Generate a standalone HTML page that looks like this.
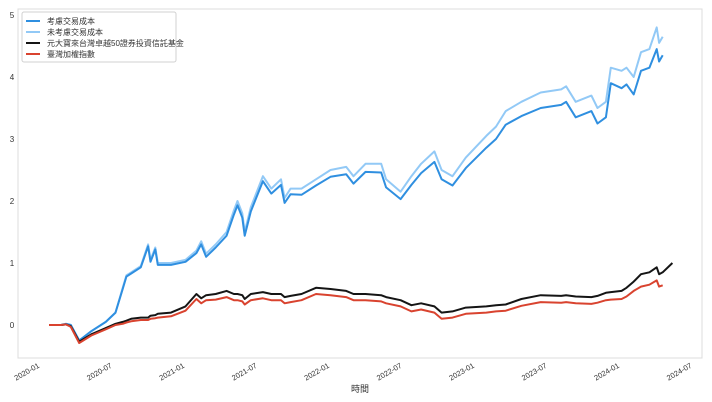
<!DOCTYPE html>
<html><head><meta charset="utf-8"><style>
html,body{margin:0;padding:0;background:#fff;}
svg{display:block;font-family:"Liberation Sans","Noto Sans CJK TC",sans-serif;}
</style></head><body>
<svg id="chart" width="712" height="402" viewBox="0 0 712 402">
<rect x="18" y="9" width="684" height="349" fill="#fff" stroke="#dcdcdc" stroke-width="1"/>
<g id="yticks"></g>
<g id="xticks"></g>
<g id="series"></g>
<text x="360" y="392" font-size="9" fill="#333" text-anchor="middle">時間</text>
<g>
<rect x="22" y="12" width="154" height="50" fill="#fff" stroke="#d0d0d0" rx="2"/>
<g><line x1="26" y1="21" x2="40" y2="21" stroke="#2f8fe0" stroke-width="2"/><text x="47" y="24" font-size="8" fill="#333">考慮交易成本</text></g>
<g><line x1="26" y1="32" x2="40" y2="32" stroke="#92c9f6" stroke-width="2"/><text x="47" y="35" font-size="8" fill="#333">未考慮交易成本</text></g>
<g><line x1="26" y1="43" x2="40" y2="43" stroke="#151515" stroke-width="2"/><text x="47" y="46" font-size="8" fill="#333">元大寶來台灣卓越50證券投資信託基金</text></g>
<g><line x1="26" y1="54" x2="40" y2="54" stroke="#d9432f" stroke-width="2"/><text x="47" y="57" font-size="8" fill="#333">臺灣加權指數</text></g>
</g>
</svg>
<script>
// months since 2020-01
const months=[0.5,1.5,1.9,2.3,3.0,4.0,5.2,6.0,6.6,6.9,7.3,8.1,8.7,8.9,9.3,9.5,10.6,11.8,12.7,13.1,13.5,14.3,15.2,15.8,16.1,16.5,16.7,17.2,18.2,18.9,19.7,20.0,20.5,21.4,22.6,23.8,25.1,25.7,26.7,28.0,28.4,29.6,30.5,31.3,32.4,33.0,33.9,35.0,36.7,37.5,38.3,39.6,41.2,42.9,43.3,44.1,45.4,45.9,46.6,47.0,47.9,48.3,48.9,49.5,50.2,50.8,51.0,51.3,52.1];
const withCost=[0,0,0.02,0,-0.25,-0.1,0.05,0.2,0.58,0.78,0.83,0.93,1.27,1.02,1.22,0.97,0.97,1.02,1.16,1.3,1.1,1.25,1.44,1.78,1.93,1.73,1.44,1.83,2.32,2.12,2.26,1.97,2.11,2.1,2.25,2.39,2.43,2.28,2.47,2.46,2.22,2.03,2.26,2.45,2.63,2.35,2.25,2.53,2.86,3.0,3.23,3.37,3.5,3.55,3.6,3.35,3.45,3.25,3.35,3.9,3.82,3.88,3.72,4.1,4.15,4.45,4.25,4.35,null];
const noCost=[0,0,0.02,0,-0.25,-0.1,0.05,0.2,0.6,0.8,0.85,0.95,1.3,1.05,1.25,1.0,1.0,1.05,1.2,1.35,1.15,1.3,1.5,1.85,2.0,1.8,1.5,1.9,2.4,2.2,2.35,2.05,2.2,2.2,2.35,2.5,2.55,2.4,2.6,2.6,2.35,2.15,2.4,2.6,2.8,2.5,2.4,2.7,3.05,3.2,3.45,3.6,3.75,3.8,3.85,3.6,3.7,3.5,3.6,4.15,4.1,4.15,4.0,4.4,4.45,4.8,4.55,4.65,null];
const etf0050=[0,0,0.01,-0.02,-0.27,-0.15,-0.05,0.02,0.05,0.07,0.1,0.12,0.12,0.15,0.16,0.18,0.2,0.3,0.5,0.43,0.48,0.5,0.55,0.5,0.5,0.48,0.42,0.5,0.53,0.5,0.5,0.45,0.47,0.5,0.6,0.58,0.55,0.5,0.5,0.48,0.45,0.4,0.32,0.35,0.3,0.2,0.22,0.28,0.3,0.32,0.33,0.42,0.48,0.47,0.48,0.46,0.45,0.47,0.52,0.53,0.55,0.6,0.7,0.82,0.85,0.93,0.82,0.85,1.0];
const taiex=[0,0,0.01,-0.03,-0.29,-0.17,-0.07,0,0.02,0.04,0.06,0.08,0.08,0.1,0.11,0.12,0.14,0.23,0.42,0.35,0.4,0.41,0.45,0.4,0.4,0.38,0.33,0.4,0.43,0.4,0.4,0.35,0.37,0.4,0.5,0.48,0.45,0.4,0.4,0.38,0.35,0.3,0.22,0.25,0.2,0.1,0.12,0.18,0.2,0.22,0.23,0.31,0.37,0.36,0.37,0.35,0.34,0.36,0.4,0.41,0.42,0.46,0.55,0.62,0.65,0.72,0.62,0.64,null];
const yTicks=[0,1,2,3,4,5];
const xTickLabels=["2020-01","2020-07","2021-01","2021-07","2022-01","2022-07","2023-01","2023-07","2024-01","2024-07"];
const xTickMonths=[0,6,12,18,24,30,36,42,48,54];

const NS="http://www.w3.org/2000/svg";
function xs(m){return 43+m*12.08;}
function ys(v){return 325-v*62;}
const yg=document.getElementById('yticks');
yTicks.forEach(v=>{
  const t=document.createElementNS(NS,'text');
  t.setAttribute('x',12);t.setAttribute('y',ys(v)+3);
  t.setAttribute('font-size','8');t.setAttribute('fill','#333');t.setAttribute('text-anchor','middle');
  t.textContent=v;
  
  
  yg.appendChild(t);
});
const xg=document.getElementById('xticks');
xTickLabels.forEach((l,i)=>{
  const x=xs(xTickMonths[i]);
  const t=document.createElementNS(NS,'text');
  t.setAttribute('transform','translate('+(x-3)+',367) rotate(-30)');
  t.setAttribute('font-size','7.5');t.setAttribute('fill','#333');t.setAttribute('text-anchor','end');
  t.textContent=l;
  
  
  xg.appendChild(t);
});
const sg=document.getElementById('series');
function draw(arr,color,name){
  let d='';let first=true;
  arr.forEach((v,i)=>{ if(v===null||v===undefined)return; d+=(first?'M':'L')+xs(months[i]).toFixed(1)+','+ys(v).toFixed(1); first=false;});
  const p=document.createElementNS(NS,'path');
  p.setAttribute('d',d);p.setAttribute('fill','none');p.setAttribute('stroke',color);
  p.setAttribute('stroke-width','2');p.setAttribute('stroke-linejoin','round');
  
  
  sg.appendChild(p);
}
draw(noCost,'#92c9f6','line-without-cost');
draw(withCost,'#2f8fe0','line-with-cost');
draw(etf0050,'#151515','line-0050-etf');
draw(taiex,'#d9432f','line-taiex');
</script>
</body></html>
